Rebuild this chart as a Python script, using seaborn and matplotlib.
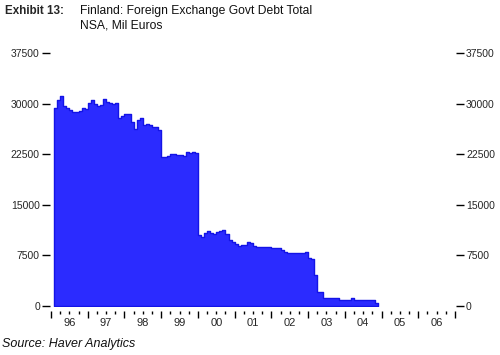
import numpy as np
import pandas as pd
import matplotlib
matplotlib.use("Agg")
import matplotlib.pyplot as plt
import seaborn as sns

# ---- data (Mil Euros, monthly, Feb 1996 - Nov 2004) ----
v1996 = [29300, 30500, 31200, 29700, 29300, 29100, 28800, 28800, 28900, 29300, 29200]  # Feb-Dec
v1997 = [30050, 30480, 29940, 29680, 29800, 30700, 30230, 30100, 30000, 30100, 27900, 28150]
v1998 = [28400, 28400, 27200, 26230, 27560, 27800, 26900, 26980, 26820, 26480, 26480, 26080]
v1999 = [22130, 22130, 22200, 22530, 22530, 22450, 22400, 22200, 22780, 22630, 22900, 22630]
v2000 = [10520, 10270, 10770, 11160, 10770, 10670, 11010, 11100, 11260, 10620, 9780, 9440]
v2001 = [9190, 8890, 8990, 8990, 9490, 9290, 8890, 8790, 8790, 8790, 8790, 8790]
v2002 = [8550, 8550, 8550, 8300, 8050, 7900, 7900, 7900, 7900, 7900, 7900, 8050]
v2003 = [7070, 6920, 4590, 2120, 2050, 1250, 1250, 1250, 1250, 1250, 890, 890]
v2004 = [890, 890, 1140, 890, 890, 890, 890, 890, 890, 890, 400]  # Jan-Nov

year_labels = ["96", "97", "98", "99", "00", "01", "02", "03", "04", "05", "06"]
y_ticks = [0, 7500, 15000, 22500, 30000, 37500]

values = v1996 + v1997 + v1998 + v1999 + v2000 + v2001 + v2002 + v2003 + v2004
months = pd.period_range("1996-02", "2004-11", freq="M")
df = pd.DataFrame({
    "t": months.year + (months.month - 0.5) / 12.0,   # mid-month position in decimal years
    "v": values,
})
start = float(months[0].year + (months[0].month - 1) / 12.0)
end = float(months[-1].year + months[-1].month / 12.0)

sns.set_style("white")
plt.rcParams["font.family"] = ["Liberation Sans", "DejaVu Sans"]

fig = plt.figure(figsize=(5.0, 3.55), dpi=100)
ax = fig.add_axes([51 / 500, 1 - 306 / 355, (455 - 51) / 500, (306 - 53) / 355])

sns.histplot(data=df, x="t", weights="v", binwidth=1 / 12.0, binrange=(start, end),
             element="step", fill=True, color="#2b2bff", alpha=1.0, linewidth=1.0,
             edgecolor="#1414e6", ax=ax)

first_year = 1996
n_years = len(year_labels)
ax.set_xlim(first_year, first_year + n_years)
ax.set_ylim(y_ticks[0], y_ticks[-1])
ax.set_xlabel("")
ax.set_ylabel("")

# x ticks: year boundaries (major, no labels), quarters (minor, labels at mid-year)
ax.tick_params(axis="x", which="major", length=5, width=1, color="black", direction="out", bottom=True)
ax.tick_params(axis="x", which="minor", length=2.5, width=1, color="black", direction="out",
               bottom=True, pad=3, labelsize=8)
years = np.arange(first_year, first_year + n_years + 1)
ax.set_xticks(years)
ax.set_xticklabels([""] * len(years))
quarters = []
qlabels = []
for i, lab in enumerate(year_labels):
    y0 = first_year + i
    for q in (0.25, 0.5, 0.75):
        quarters.append(y0 + q)
        qlabels.append(lab if q == 0.5 else "")
ax.set_xticks(quarters, minor=True)
ax.set_xticklabels(qlabels, minor=True, fontweight="bold", fontsize=8)

# left y ticks (bold)
ax.tick_params(axis="y", which="major", left=True, right=False, labelleft=True, labelright=False,
               length=5.5, width=1, color="black", direction="out", pad=1.5, labelsize=7.5)
ax.set_yticks(y_ticks)
ax.set_yticklabels([str(v) for v in y_ticks], fontweight="bold", fontsize=7.5)

# right y ticks (regular) on a twin axis sharing the same scale
ax2 = ax.twinx()
ax2.set_ylim(ax.get_ylim())
ax2.tick_params(axis="y", which="major", right=True, labelright=True, length=5.5, width=1,
                color="black", direction="out", pad=1.5, labelsize=7.5)
ax2.set_yticks(y_ticks)
ax2.set_yticklabels([str(v) for v in y_ticks], fontweight="normal", color="#222222", fontsize=7.5)
ax2.grid(False)

for a in (ax, ax2):
    for side in ["left", "right", "bottom", "top"]:
        a.spines[side].set_color("none")
ax.spines["bottom"].set_position(("outward", 3.5))
ax.spines["left"].set_position(("outward", 1))
ax2.spines["right"].set_position(("outward", 1))
ax.grid(False)

# titles
fig.text(5 / 500, 1 - 5 / 355, "Exhibit 13:", fontsize=8.4, fontweight="bold", va="top", ha="left")
fig.text(80 / 500, 1 - 5 / 355, "Finland: Foreign Exchange Govt Debt Total", fontsize=8.7,
         va="top", ha="left", color="#111111")
fig.text(80 / 500, 1 - 20 / 355, "NSA, Mil Euros", fontsize=8.7, va="top", ha="left", color="#111111")
fig.text(2 / 500, 1 - 338 / 355, "Source: Haver Analytics", fontsize=9, style="italic",
         va="top", ha="left", color="#111111")

fig.savefig("out.png", dpi=100, facecolor="white")
